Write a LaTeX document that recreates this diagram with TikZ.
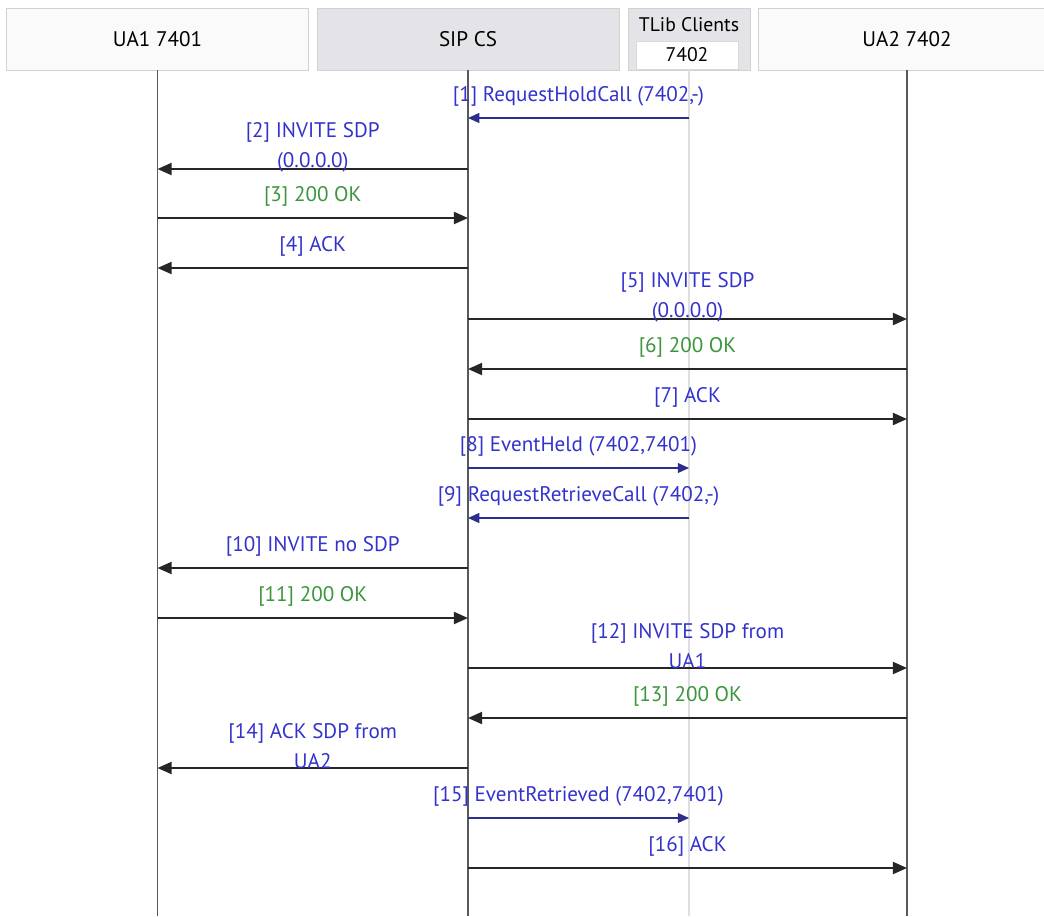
\documentclass[tikz,border=0pt]{standalone}
\usepackage{fontspec}
\setmainfont{PT Sans}
\usetikzlibrary{arrows.meta, positioning}
\definecolor{msgblue}{RGB}{51,51,204}
\definecolor{okgreen}{RGB}{60,150,60}
\definecolor{evtline}{RGB}{45,45,140}
\definecolor{headgray}{RGB}{228,228,232}

\begin{document}
\begin{tikzpicture}[
        x=0.025cm, y=-0.025cm,
        head/.style={rectangle, draw=gray!35, fill=gray!4, minimum width=7.55cm, minimum height=1.55cm, font=\fontsize{15}{18}\selectfont},
        life/.style={draw=black!65, line width=1.4pt},
        sipmsg/.style={draw=black!85, line width=1.5pt, -{Triangle[length=10pt,width=8.5pt]}},
        tlibmsg/.style={draw=evtline, line width=1pt, -{Triangle[length=8pt,width=7pt]}},
        lbl/.style={midway, yshift=15.5pt, align=center, text=msgblue, font=\fontsize{15}{21}\selectfont},
        oklbl/.style={lbl, text=okgreen}
    ]
    \useasboundingbox (0,0) rectangle (1044,916);

    % Lifeline heads
    \node[head] (ua1) at (157.5,39) {UA1 7401};
    \node[head, fill=headgray] (sip) at (468,39) {SIP CS};
    \node[head, fill=headgray, minimum width=3.05cm] (tlib) at (689,39) {};
    \node[font=\fontsize{14}{16}\selectfont] (tlibname) at (689,25) {TLib Clients};
    \node[draw=gray!30, fill=white, minimum width=2.55cm, minimum height=0.7cm, font=\fontsize{14}{16}\selectfont] (tlibdn) at (687,55) {7402};
    \node[head, minimum width=7.45cm] (ua2) at (907,39) {UA2 7402};

    % Lifelines
    \coordinate (bottom) at (0,916);
    \draw[life] (ua1.south) -- (ua1.south |- bottom);
    \draw[life] (sip.south) -- (sip.south |- bottom);
    \draw[draw=gray!25, line width=1.4pt] (tlib.south) -- (tlib.south |- bottom);
    \draw[life] (ua2.south) -- (ua2.south |- bottom);

    % Message rows
    \coordinate (m1) at (0,118);
    \coordinate (m2) at (0,169);
    \coordinate (m3) at (0,218);
    \coordinate (m4) at (0,268);
    \coordinate (m5) at (0,319);
    \coordinate (m6) at (0,369);
    \coordinate (m7) at (0,419);
    \coordinate (m8) at (0,468);
    \coordinate (m9) at (0,518);
    \coordinate (m10) at (0,568);
    \coordinate (m11) at (0,618);
    \coordinate (m12) at (0,668);
    \coordinate (m13) at (0,718);
    \coordinate (m14) at (0,768);
    \coordinate (m15) at (0,818);
    \coordinate (m16) at (0,868);

    % Hold
    \draw[tlibmsg] (tlib |- m1) -- (sip |- m1) node[lbl] {[1] RequestHoldCall (7402,-)};
    \draw[sipmsg] (sip |- m2) -- (ua1 |- m2) node[lbl] {[2] INVITE SDP\\(0.0.0.0)};
    \draw[sipmsg] (ua1 |- m3) -- (sip |- m3) node[oklbl] {[3] 200 OK};
    \draw[sipmsg] (sip |- m4) -- (ua1 |- m4) node[lbl] {[4] ACK};
    \draw[sipmsg] (sip |- m5) -- (ua2 |- m5) node[lbl] {[5] INVITE SDP\\(0.0.0.0)};
    \draw[sipmsg] (ua2 |- m6) -- (sip |- m6) node[oklbl] {[6] 200 OK};
    \draw[sipmsg] (sip |- m7) -- (ua2 |- m7) node[lbl] {[7] ACK};
    \draw[tlibmsg] (sip |- m8) -- (tlib |- m8) node[lbl] {[8] EventHeld (7402,7401)};

    % Retrieve
    \draw[tlibmsg] (tlib |- m9) -- (sip |- m9) node[lbl] {[9] RequestRetrieveCall (7402,-)};
    \draw[sipmsg] (sip |- m10) -- (ua1 |- m10) node[lbl] {[10] INVITE no SDP};
    \draw[sipmsg] (ua1 |- m11) -- (sip |- m11) node[oklbl] {[11] 200 OK};
    \draw[sipmsg] (sip |- m12) -- (ua2 |- m12) node[lbl] {[12] INVITE SDP from\\UA1};
    \draw[sipmsg] (ua2 |- m13) -- (sip |- m13) node[oklbl] {[13] 200 OK};
    \draw[sipmsg] (sip |- m14) -- (ua1 |- m14) node[lbl] {[14] ACK SDP from\\UA2};
    \draw[tlibmsg] (sip |- m15) -- (tlib |- m15) node[lbl] {[15] EventRetrieved (7402,7401)};
    \draw[sipmsg] (sip |- m16) -- (ua2 |- m16) node[lbl] {[16] ACK};
\end{tikzpicture}
\end{document}
